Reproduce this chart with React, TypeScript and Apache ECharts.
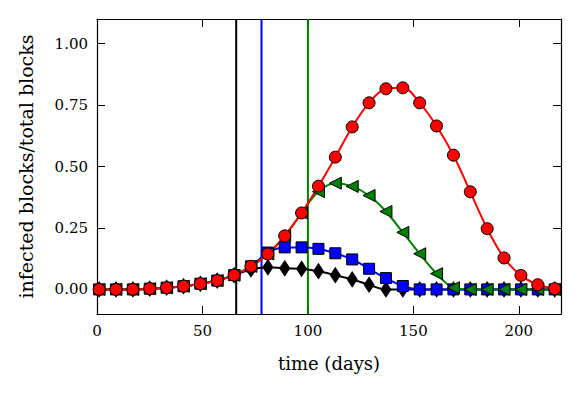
import React, { useEffect, useRef } from "react";
import * as echarts from "echarts";

const days = [1, 9, 17, 25, 33, 41, 49, 57, 65, 73, 81, 89, 97, 105, 113, 121, 129, 137, 145, 153, 161, 169, 177, 185, 193, 201, 209, 217];
const redValues = [0, 0, 0, 0.003, 0.007, 0.013, 0.023, 0.036, 0.058, 0.094, 0.144, 0.218, 0.311, 0.42, 0.538, 0.661, 0.759, 0.816, 0.82, 0.759, 0.665, 0.546, 0.397, 0.247, 0.128, 0.057, 0.019, 0.003];
const greenValues = [0, 0, 0, 0.003, 0.007, 0.013, 0.023, 0.036, 0.058, 0.094, 0.144, 0.218, 0.311, 0.398, 0.432, 0.419, 0.382, 0.317, 0.232, 0.145, 0.064, 0.007, 0, 0, 0, 0, 0, 0];
const blueValues = [0, 0, 0, 0.003, 0.007, 0.013, 0.023, 0.036, 0.058, 0.094, 0.15, 0.171, 0.171, 0.165, 0.147, 0.122, 0.084, 0.046, 0.014, 0, 0, 0, 0, 0, 0, 0, 0, 0];
const blackValues = [0, 0, 0, 0.003, 0.007, 0.013, 0.023, 0.036, 0.058, 0.081, 0.09, 0.086, 0.084, 0.074, 0.058, 0.041, 0.019, 0, 0, 0, 0, 0, 0, 0, 0, 0, 0, 0];
const interventionDays = [66, 78, 100];
const interventionColors = ["#000000", "#0000ff", "#008000"];
const xTicks = [0, 50, 100, 150, 200];
const yTicks = [0, 0.25, 0.5, 0.75, 1.0];

const FONT = "DejaVu Serif";

export default function App() {
  const ref = useRef<HTMLDivElement>(null);
  useEffect(() => {
    if (!ref.current) return;
    const chart = echarts.init(ref.current, null, { renderer: "svg" });
    const pts = (vals: number[]) => days.map((d, i) => [d, vals[i]]);
    const axisLine = { show: true, onZero: false, lineStyle: { color: "#000", width: 1.2 } };
    const tick = (vals: number[]) => ({ show: true, inside: true, length: 8, lineStyle: { color: "#000", width: 1 }, customValues: vals });
    const dataSeries = (name: string, vals: number[], color: string, symbol: string, size: any, rotate = 0) => ({
      type: "line",
      name,
      data: pts(vals),
      smooth: 0.35,
      symbol,
      symbolSize: size,
      symbolRotate: rotate,
      showAllSymbol: true,
      lineStyle: { color, width: 2 },
      itemStyle: { color, borderColor: "#000", borderWidth: 1 },
      z: 3,
    });
    chart.setOption({
      animation: false,
      grid: { left: 97, top: 19, width: 464, height: 295 },
      xAxis: [
        {
          type: "value", min: 0, max: 220, position: "bottom",
          axisLine, axisTick: tick(xTicks), splitLine: { show: false },
          axisLabel: { customValues: xTicks, margin: 9, color: "#000", fontFamily: FONT, fontSize: 15 },
          name: "time (days)", nameLocation: "middle", nameGap: 40,
          nameTextStyle: { color: "#000", fontFamily: FONT, fontSize: 18 },
        },
        {
          type: "value", min: 0, max: 220, position: "top",
          axisLine, axisTick: tick(xTicks), splitLine: { show: false },
          axisLabel: { show: false },
        },
      ],
      yAxis: [
        {
          type: "value", min: -0.1, max: 1.1, position: "left",
          axisLine, axisTick: tick(yTicks), splitLine: { show: false },
          axisLabel: { customValues: yTicks, margin: 9, color: "#000", fontFamily: FONT, fontSize: 15, formatter: (v: number) => v.toFixed(2) },
          name: "infected blocks/total blocks", nameLocation: "middle", nameGap: 62,
          nameTextStyle: { color: "#000", fontFamily: FONT, fontSize: 19 },
        },
        {
          type: "value", min: -0.1, max: 1.1, position: "right",
          axisLine, axisTick: tick(yTicks), splitLine: { show: false },
          axisLabel: { show: false },
        },
      ],
      series: [
        ...interventionDays.map((d, i) => ({
          type: "line",
          data: [[d, -0.1], [d, 1.1]],
          symbol: "none",
          lineStyle: { color: interventionColors[i], width: 2 },
          z: 2,
          silent: true,
        })),
        dataSeries("black", blackValues, "#000000", "diamond", [10, 15]),
        dataSeries("blue", blueValues, "#0000ff", "rect", 11),
        dataSeries("green", greenValues, "#008000", "triangle", 12, 90),
        dataSeries("red", redValues, "#ff0000", "circle", 12),
      ],
    });
    return () => chart.dispose();
  }, []);
  return <div ref={ref} style={{ position: "fixed", left: 0, top: 0, width: 581, height: 394, background: "#fff" }} />;
}
